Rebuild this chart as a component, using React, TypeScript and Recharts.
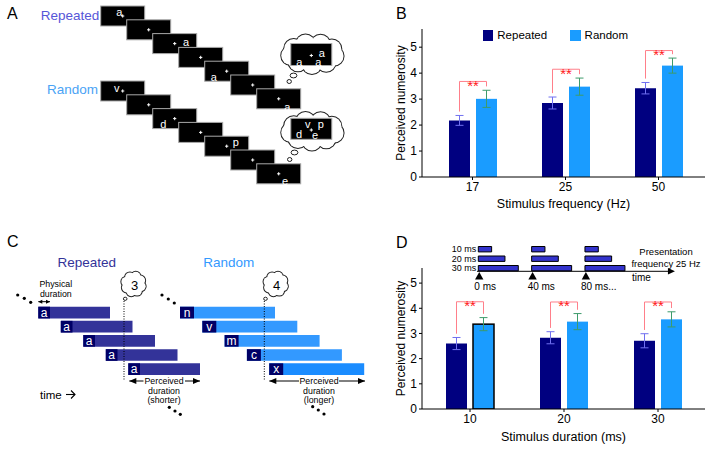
import React from 'react';
import {
  BarChart,
  Bar,
  XAxis,
  YAxis,
  ErrorBar,
  ScatterChart,
  Scatter,
  ReferenceArea,
  ReferenceLine,
} from 'recharts';

const FONT = '"Liberation Sans", Arial, Helvetica, sans-serif';

// ---------------- Panel B : stimulus frequency ----------------
const freqCategories = ['17', '25', '50'];
const freqRepeated = [2.18, 2.85, 3.42];
const freqRandom = [3.01, 3.48, 4.29];
const freqRepeatedErr = [0.19, 0.23, 0.22];
const freqRandomErr = [0.33, 0.33, 0.29];
const freqBracket = [3.68, 4.15, 4.87];

// ---------------- Panel D : stimulus duration ----------------
const durCategories = ['10', '20', '30'];
const durRepeated = [2.6, 2.83, 2.71];
const durRandom = [3.37, 3.47, 3.56];
const durRepeatedErr = [0.24, 0.24, 0.28];
const durRandomErr = [0.26, 0.32, 0.3];
const durBracket = [4.26, 4.25, 4.25];
const durOutlined = [true, false, false];

const yTicks = [0, 1, 2, 3, 4, 5];
const legendLabels = ['Repeated', 'Random'];

// Panel D inset (presentation timeline, in ms)
const insetDurations = [10, 20, 30];
const insetDurationLabels = ['10 ms', '20 ms', '30 ms'];
const insetOnsets = [0, 40, 80];
const insetOnsetLabels = ['0 ms', '40 ms', '80 ms...'];

// ---------------- Panel A : letter streams ----------------
const aRepeatedLetters = ['a', '', 'a', '', 'a', '', 'a'];
const aRepeatedOffsets = [[-3.4, -4.3], [0, 0], [11.3, -1.9], [0, 0], [-13, 6.1], [0, 0], [8.6, 7.9]];
const aRandomLetters = ['v', '', 'd', '', 'p', '', 'e'];
const aRandomOffsets = [[-6, -3.3], [0, 0], [-11.4, 5.7], [0, 0], [9, -4.5], [0, 0], [6.3, 7.2]];
const bubbleRepeatedLetters = ['a', 'a', 'a'];
const bubbleRepeatedOffsets = [[10.4, -1.8], [-12, 7.8], [7, 7.8]];
const bubbleRandomLetters = ['v', 'p', 'd', 'e'];
const bubbleRandomOffsets = [[-3.6, -4.5], [9.4, -4.8], [-12.3, 5.5], [3.7, 6.2]];

// ---------------- Panel C : durations ----------------
const cRepeatedLetters = ['a', 'a', 'a', 'a', 'a'];
const cRandomLetters = ['n', 'v', 'm', 'c', 'x'];
const cRepeatedCount = '3';
const cRandomCount = '4';

// colours
const NAVY = '#000080';
const SKY = '#1a9cff';
const REP_ERR = '#7070f0';
const RAND_ERR = '#3d9b6b';
const BRACKET = '#ff7f8a';
const STAR = '#ff1a1a';

const BAR_SIZE = 21;
const BAR_GAP = 6;

const makeData = (
  cats: string[],
  rep: number[],
  rnd: number[],
  repErr: number[],
  rndErr: number[],
  bracket: number[],
  outlined?: boolean[]
) =>
  cats.map((c, i) => ({
    cat: c,
    repeated: rep[i],
    random: rnd[i],
    repeatedErr: repErr[i],
    randomErr: rndErr[i],
    bracket: bracket[i],
    outlined: outlined ? outlined[i] : false,
  }));

const freqData = makeData(freqCategories, freqRepeated, freqRandom, freqRepeatedErr, freqRandomErr, freqBracket);
const durData = makeData(durCategories, durRepeated, durRandom, durRepeatedErr, durRandomErr, durBracket, durOutlined);

const randomShape = (props: any) => {
  const { x, y, width, height, payload } = props;
  const base = y + height;
  const perUnit = payload.random ? height / payload.random : 0;
  const py = (v: number) => base - v * perUnit;
  const rc = x + width / 2;
  const lc = x - BAR_GAP - width / 2;
  const by = py(payload.bracket);
  const leftEnd = py(payload.repeated + payload.repeatedErr + 0.15);
  const rightEnd = py(payload.random + payload.randomErr + 0.15);
  return (
    <g>
      <rect
        x={x}
        y={y}
        width={width}
        height={height}
        fill={SKY}
        stroke={payload.outlined ? '#000' : 'none'}
        strokeWidth={1.5}
      />
      <polyline
        points={`${lc},${leftEnd} ${lc},${by} ${rc},${by} ${rc},${rightEnd}`}
        fill="none"
        stroke={BRACKET}
        strokeWidth={1}
      />
      <text x={(lc + rc) / 2} y={by + 9.5} textAnchor="middle" fontSize={15} fill={STAR} fontFamily={FONT}>
        **
      </text>
    </g>
  );
};

const axisTick = { fill: '#000', fontSize: 12, fontFamily: FONT };

function NumerosityChart(props: {
  data: any[];
  yMax: number;
  top: number;
  height: number;
  xAxisHeight: number;
  xLabel: string;
  xLabelOffset: number;
  padLeft: number;
}) {
  const { data, yMax, top, height, xAxisHeight, xLabel, xLabelOffset, padLeft } = props;
  return (
    <BarChart
      width={335}
      height={height}
      data={data}
      margin={{ top, right: 10, bottom: 0, left: 0 }}
      barSize={BAR_SIZE}
      barGap={BAR_GAP}
    >
      <XAxis
        dataKey="cat"
        height={xAxisHeight}
        stroke="#000"
        tickSize={3}
        tickMargin={2}
        padding={{ left: padLeft, right: 0 }}
        tick={axisTick}
        label={{
          value: xLabel,
          position: 'insideBottom',
          offset: xLabelOffset,
          style: { fontSize: 12.5, fill: '#000', fontFamily: FONT },
        }}
      />
      <YAxis
        type="number"
        domain={[0, yMax]}
        ticks={yTicks}
        width={42}
        stroke="#000"
        tickSize={3}
        tickMargin={2}
        allowDataOverflow
        tick={axisTick}
        label={{
          value: 'Perceived numerosity',
          angle: -90,
          position: 'insideLeft',
          offset: 21,
          style: { textAnchor: 'middle', fontSize: 12, fill: '#000', fontFamily: FONT },
        }}
      />
      <Bar dataKey="repeated" fill={NAVY} isAnimationActive={false}>
        <ErrorBar dataKey="repeatedErr" width={4} stroke={REP_ERR} strokeWidth={1} />
      </Bar>
      <Bar dataKey="random" fill={SKY} isAnimationActive={false} shape={randomShape}>
        <ErrorBar dataKey="randomErr" width={4} stroke={RAND_ERR} strokeWidth={1} />
      </Bar>
    </BarChart>
  );
}

// ---------------- generic schematic helpers ----------------
const textShape = (p: any) => {
  const d = p.payload;
  return (
    <text
      x={p.cx}
      y={p.cy}
      fontSize={d.size}
      fill={d.color || '#000'}
      textAnchor={d.anchor || 'middle'}
      dominantBaseline="central"
      fontFamily={FONT}
    >
      {d.t}
    </text>
  );
};

const Fix = ({ x, y }: { x: number; y: number }) => (
  <g stroke="#fff" strokeWidth={1}>
    <line x1={x - 1.6} y1={y} x2={x + 1.6} y2={y} />
    <line x1={x} y1={y - 1.6} x2={x} y2={y + 1.6} />
  </g>
);

const frameShape = (p: any) => {
  const d = p.payload;
  return (
    <g>
      <rect x={p.cx - d.w / 2} y={p.cy - d.h / 2} width={d.w} height={d.h} fill="#000" stroke="#a8a8a8" strokeWidth={1} />
      <Fix x={p.cx + (d.fx || 0)} y={p.cy + (d.fy || 0)} />
      {(d.letters || []).map((l: string, k: number) => (
        <text
          key={k}
          x={p.cx + d.offsets[k][0]}
          y={p.cy + d.offsets[k][1]}
          fill="#fff"
          fontSize={11}
          textAnchor="middle"
          dominantBaseline="central"
          fontFamily={FONT}
        >
          {l}
        </text>
      ))}
    </g>
  );
};

const cloudShape = (p: any) => {
  const d = p.payload;
  const pts: number[][] = [];
  for (let k = 0; k < d.lobes; k++) {
    const a = (2 * Math.PI * k) / d.lobes + (d.phase || 0);
    pts.push([p.cx + (d.rx - d.r) * Math.cos(a), p.cy + (d.ry - d.r) * Math.sin(a)]);
  }
  return (
    <g>
      {pts.map(([x, y], k) => (
        <circle key={'o' + k} cx={x} cy={y} r={d.r} fill="#fff" stroke="#222" strokeWidth={2} />
      ))}
      {pts.map(([x, y], k) => (
        <circle key={'i' + k} cx={x} cy={y} r={d.r} fill="#fff" />
      ))}
      <ellipse cx={p.cx} cy={p.cy} rx={Math.max(d.rx - d.r, 1)} ry={Math.max(d.ry - d.r, 1)} fill="#fff" />
    </g>
  );
};

const ovalShape = (p: any) => {
  const d = p.payload;
  return <ellipse cx={p.cx} cy={p.cy} rx={d.rx} ry={d.ry} fill="#fff" stroke="#222" strokeWidth={1} />;
};

const dotShape = (p: any) => <circle cx={p.cx} cy={p.cy} r={p.payload.r || 1.6} fill="#000" />;

const arrowHeadShape = (p: any) => {
  const d = p.payload;
  const s = d.dir === 'left' ? -1 : 1;
  const L = d.len || 6;
  const H = d.half || 2.6;
  return (
    <polygon
      points={`${p.cx},${p.cy} ${p.cx - s * L},${p.cy - H} ${p.cx - s * L},${p.cy + H}`}
      fill="#000"
    />
  );
};

const openArrowShape = (p: any) => (
  <g stroke="#000" strokeWidth={1.1} fill="none">
    <line x1={p.cx - 9} y1={p.cy} x2={p.cx} y2={p.cy} />
    <polyline points={`${p.cx - 4},${p.cy - 4} ${p.cx},${p.cy} ${p.cx - 4},${p.cy + 4}`} />
  </g>
);

const triangleUpShape = (p: any) => (
  <polygon points={`${p.cx},${p.cy - 3.8} ${p.cx - 4.2},${p.cy + 3.8} ${p.cx + 4.2},${p.cy + 3.8}`} fill="#000" />
);

function Schematic(props: { width: number; height: number; xDomain?: number[]; children: any }) {
  const { width, height, xDomain, children } = props;
  return (
    <ScatterChart width={width} height={height} margin={{ top: 0, right: 0, bottom: 0, left: 0 }}>
      <XAxis type="number" dataKey="x" domain={xDomain || [0, width]} hide allowDataOverflow />
      <YAxis type="number" dataKey="y" domain={[0, height]} reversed hide allowDataOverflow />
      {children}
    </ScatterChart>
  );
}

// ---------------- Panel A ----------------
const A_FRAME_W = 44;
const A_FRAME_H = 20;
const A_STEP_X = 26;
const A_STEP_Y = 13.8;

const buildFrames = (letters: string[], offsets: number[][], x0: number, y0: number) =>
  letters.map((l, i) => ({
    x: x0 + i * A_STEP_X,
    y: y0 + i * A_STEP_Y,
    w: A_FRAME_W,
    h: A_FRAME_H,
    letters: l ? [l] : [],
    offsets: [offsets[i]],
  }));

const aRepeatedFrames = buildFrames(aRepeatedLetters, aRepeatedOffsets, 122.7, 16);
const aRandomFrames = buildFrames(aRandomLetters, aRandomOffsets, 122.7, 91);

const aClouds = [
  { x: 312.5, y: 54, rx: 31.5, ry: 20, lobes: 9, r: 9.5, phase: 0.2 },
  { x: 312.5, y: 131, rx: 31.5, ry: 19.5, lobes: 9, r: 9.5, phase: 0.2 },
];
const aCloudTails = [
  { x: 293.5, y: 75.5, rx: 3.4, ry: 2.4 },
  { x: 289.2, y: 81.5, rx: 2.2, ry: 2 },
  { x: 294.5, y: 152.5, rx: 3.4, ry: 2.4 },
  { x: 289.7, y: 159.5, rx: 2.2, ry: 2 },
];
const aBubbleFrames = [
  { x: 311.3, y: 54.5, w: 41, h: 22, fy: 1, letters: bubbleRepeatedLetters, offsets: bubbleRepeatedOffsets },
  { x: 311.3, y: 128.8, w: 41, h: 21, fy: 1.2, letters: bubbleRandomLetters, offsets: bubbleRandomOffsets },
];
const aTexts = [
  { x: 70, y: 15, t: legendLabels[0], size: 13.5, color: '#5656d8' },
  { x: 72.5, y: 89.5, t: legendLabels[1], size: 13.5, color: '#4aa3f5' },
];

function PanelA() {
  return (
    <Schematic width={380} height={225}>
      <Scatter data={aRepeatedFrames} shape={frameShape} isAnimationActive={false} />
      <Scatter data={aRandomFrames} shape={frameShape} isAnimationActive={false} />
      <Scatter data={aCloudTails} shape={ovalShape} isAnimationActive={false} />
      <Scatter data={aClouds} shape={cloudShape} isAnimationActive={false} />
      <Scatter data={aBubbleFrames} shape={frameShape} isAnimationActive={false} />
      <Scatter data={aTexts} shape={textShape} isAnimationActive={false} />
    </Schematic>
  );
}

// ---------------- Panel C ----------------
const C_ROW_TOP = 81.7;
const C_ROW_STEP = 14.15;
const C_ROW_H = 11.7;

const cRepeatedBars = cRepeatedLetters.map((l, i) => ({
  start: 38.3 + 22.5 * i,
  len: 71.7,
  dark: 11.7,
  top: C_ROW_TOP + C_ROW_STEP * i,
  letter: l,
  color: '#333399',
}));
const cRandomBars = cRandomLetters.map((l, i) => ({
  start: 180 + 22.3 * i,
  len: 95,
  dark: 14,
  top: C_ROW_TOP + C_ROW_STEP * i,
  letter: l,
  color: i === cRandomLetters.length - 1 ? '#1a8cff' : '#3399ff',
}));
const cBarLetters = [...cRepeatedBars, ...cRandomBars].map((b) => ({
  x: b.start + b.dark / 2,
  y: b.top + C_ROW_H / 2,
  t: b.letter,
  size: 12,
  color: '#fff',
}));

const cClouds = [
  { x: 133.5, y: 59, rx: 12.5, ry: 12.5, lobes: 8, r: 4.8, phase: 0.3 },
  { x: 275.7, y: 59, rx: 12.5, ry: 12.5, lobes: 8, r: 4.8, phase: 0.3 },
];
const cTails = [
  { x: 125.2, y: 73.8, rx: 1.8, ry: 1.6 },
  { x: 265.5, y: 73.8, rx: 1.8, ry: 1.6 },
];
const cDots = [
  { x: 17.7, y: 70 }, { x: 24.3, y: 73.3 }, { x: 30.7, y: 77.3 },
  { x: 162, y: 70 }, { x: 168.3, y: 74 }, { x: 174.3, y: 78 },
  { x: 169.3, y: 182.3 }, { x: 175, y: 186 }, { x: 180.3, y: 189.3 },
  { x: 312.7, y: 181.7 }, { x: 318.3, y: 185 }, { x: 324, y: 189 },
];
const cArrowHeads = [
  { x: 38.3, y: 76.7, dir: 'left', len: 4, half: 2 },
  { x: 50, y: 76.7, dir: 'right', len: 4, half: 2 },
  { x: 129.3, y: 156, dir: 'left', len: 7, half: 3 },
  { x: 200, y: 156, dir: 'right', len: 7, half: 3 },
  { x: 269.3, y: 156, dir: 'left', len: 7, half: 3 },
  { x: 365, y: 156, dir: 'right', len: 7, half: 3 },
];
const cTimeArrow = [{ x: 75, y: 169.5 }];
const cTexts = [
  { x: 86.7, y: 37.5, t: legendLabels[0], size: 13.5, color: '#333399' },
  { x: 228.7, y: 37.5, t: legendLabels[1], size: 13.5, color: '#3399ff' },
  { x: 55.8, y: 58.5, t: 'Physical', size: 8.8 },
  { x: 55.8, y: 69, t: 'duration', size: 8.8 },
  { x: 134.5, y: 60, t: cRepeatedCount, size: 13 },
  { x: 276.5, y: 60, t: cRandomCount, size: 13 },
  { x: 164, y: 156, t: 'Perceived', size: 8.8 },
  { x: 164, y: 165.7, t: 'duration', size: 8.8 },
  { x: 164, y: 174.6, t: '(shorter)', size: 8.8 },
  { x: 319, y: 156, t: 'Perceived', size: 8.8 },
  { x: 319, y: 165.7, t: 'duration', size: 8.8 },
  { x: 319, y: 174.6, t: '(longer)', size: 8.8 },
  { x: 40, y: 169.5, t: 'time', size: 11.5, anchor: 'start' },
];
const cSegments = [
  [[38.3, 76.7], [50, 76.7]],
  [[129.3, 156], [143.5, 156]],
  [[185, 156], [200, 156]],
  [[269.3, 156], [299, 156]],
  [[339, 156], [365, 156]],
];

function PanelC() {
  return (
    <Schematic width={380} height={224}>
      {[...cRepeatedBars, ...cRandomBars].map((b, i) => (
        <ReferenceArea
          key={'bar' + i}
          x1={b.start}
          x2={b.start + b.len}
          y1={b.top}
          y2={b.top + C_ROW_H}
          fill={b.color}
          fillOpacity={1}
          stroke="none"
          ifOverflow="visible"
        />
      ))}
      {[...cRepeatedBars, ...cRandomBars].map((b, i) => (
        <ReferenceArea
          key={'dark' + i}
          x1={b.start}
          x2={b.start + b.dark}
          y1={b.top}
          y2={b.top + C_ROW_H}
          fill="#000066"
          fillOpacity={1}
          stroke="none"
          ifOverflow="visible"
        />
      ))}
      {cSegments.map((s, i) => (
        <ReferenceLine
          key={'seg' + i}
          segment={[{ x: s[0][0], y: s[0][1] }, { x: s[1][0], y: s[1][1] }]}
          stroke="#000"
          strokeWidth={1}
          ifOverflow="visible"
        />
      ))}
      <ReferenceLine
        segment={[{ x: 124, y: 76 }, { x: 124, y: 155 }]}
        stroke="#000"
        strokeWidth={1}
        strokeDasharray="1 1.5"
        ifOverflow="visible"
      />
      <ReferenceLine
        segment={[{ x: 264.3, y: 76 }, { x: 264.3, y: 155 }]}
        stroke="#000"
        strokeWidth={1}
        strokeDasharray="1 1.5"
        ifOverflow="visible"
      />
      <Scatter data={cBarLetters} shape={textShape} isAnimationActive={false} />
      <Scatter data={cTails} shape={ovalShape} isAnimationActive={false} />
      <Scatter data={cClouds} shape={cloudShape} isAnimationActive={false} />
      <Scatter data={cDots} shape={dotShape} isAnimationActive={false} />
      <Scatter data={cArrowHeads} shape={arrowHeadShape} isAnimationActive={false} />
      <Scatter data={cTimeArrow} shape={openArrowShape} isAnimationActive={false} />
      <Scatter data={cTexts} shape={textShape} isAnimationActive={false} />
    </Schematic>
  );
}

// ---------------- Panel D inset ----------------
const INSET_W = 335;
const INSET_H = 70;
const MS_ORIGIN_PX = 98.3;
const PX_PER_MS = 1.3333;
const insetDomain = [-MS_ORIGIN_PX / PX_PER_MS, (INSET_W - MS_ORIGIN_PX) / PX_PER_MS];
const INSET_ROW0 = 24.2;
const INSET_ROW_STEP = 9.5;
const INSET_BAR_H = 5.4;
const INSET_LINE_Y = 46.3;

const insetRowTexts = insetDurationLabels.map((t, i) => ({
  x: -1.5,
  y: INSET_ROW0 + INSET_ROW_STEP * i,
  t,
  size: 9,
  anchor: 'end',
}));
const insetOnsetTexts = insetOnsetLabels.map((t, i) => ({
  x: insetOnsets[i] - 3,
  y: 61.7,
  t,
  size: 10,
  anchor: 'start',
}));
const insetTriangles = insetOnsets.map((o) => ({ x: o + 0.7, y: 50.8 }));
const insetOtherTexts = [
  { x: 140.8, y: 26.7, t: 'Presentation', size: 9.5 },
  { x: 140.8, y: 38.3, t: 'frequency 25 Hz', size: 9.5 },
  { x: 115.2, y: 52.7, t: 'time', size: 10, anchor: 'start' },
];
const insetArrow = [{ x: 147.5, y: INSET_LINE_Y, dir: 'right', len: 7, half: 3.3 }];

function InsetD() {
  return (
    <Schematic width={INSET_W} height={INSET_H} xDomain={insetDomain}>
      {insetOnsets.map((o) =>
        insetDurations.map((d, i) => (
          <ReferenceArea
            key={o + '-' + d}
            x1={o}
            x2={o + d}
            y1={INSET_ROW0 + INSET_ROW_STEP * i - INSET_BAR_H / 2}
            y2={INSET_ROW0 + INSET_ROW_STEP * i + INSET_BAR_H / 2}
            fill="#3333cc"
            fillOpacity={1}
            stroke="#000"
            strokeWidth={1}
            ifOverflow="visible"
          />
        ))
      )}
      <ReferenceLine
        segment={[{ x: -1, y: INSET_LINE_Y }, { x: 143, y: INSET_LINE_Y }]}
        stroke="#000"
        strokeWidth={1}
        ifOverflow="visible"
      />
      <Scatter data={insetTriangles} shape={triangleUpShape} isAnimationActive={false} />
      <Scatter data={insetArrow} shape={arrowHeadShape} isAnimationActive={false} />
      <Scatter data={insetRowTexts} shape={textShape} isAnimationActive={false} />
      <Scatter data={insetOnsetTexts} shape={textShape} isAnimationActive={false} />
      <Scatter data={insetOtherTexts} shape={textShape} isAnimationActive={false} />
    </Schematic>
  );
}

const panelLetter = (t: string, left: number, top: number) => (
  <div
    style={{
      position: 'absolute',
      left,
      top,
      fontSize: 16,
      lineHeight: '16px',
      fontFamily: FONT,
      color: '#000',
    }}
  >
    {t}
  </div>
);

const Legend = () => (
  <div style={{ position: 'absolute', left: 482.7, top: 29, fontFamily: FONT, fontSize: 11.5, color: '#000' }}>
    {legendLabels.map((l, i) => (
      <div key={l} style={{ position: 'absolute', left: i * 87.3, top: 0, display: 'flex', alignItems: 'center', whiteSpace: 'nowrap' }}>
        <div style={{ width: 10.6, height: 11, background: i === 0 ? NAVY : SKY, marginRight: 4 }} />
        <span style={{ lineHeight: '12px' }}>{l}</span>
      </div>
    ))}
  </div>
);

export default function App() {
  return (
    <div style={{ position: 'relative', width: 715, height: 449, background: '#fff', overflow: 'hidden' }}>
      <style>{'body{margin:0;background:#fff}'}</style>
      <div style={{ position: 'absolute', left: 0, top: 0 }}>
        <PanelA />
      </div>
      <div style={{ position: 'absolute', left: 0, top: 225 }}>
        <PanelC />
      </div>
      <div style={{ position: 'absolute', left: 380, top: 0 }}>
        <NumerosityChart
          data={freqData}
          yMax={5.7}
          top={29}
          height={225}
          xAxisHeight={48}
          xLabel="Stimulus frequency (Hz)"
          xLabelOffset={17}
          padLeft={4}
        />
      </div>
      <div style={{ position: 'absolute', left: 380, top: 225 }}>
        <NumerosityChart
          data={durData}
          yMax={5.6}
          top={43}
          height={224}
          xAxisHeight={40}
          xLabel="Stimulus duration (ms)"
          xLabelOffset={8.5}
          padLeft={1}
        />
      </div>
      <div style={{ position: 'absolute', left: 380, top: 225 }}>
        <InsetD />
      </div>
      <Legend />
      {panelLetter('A', 7, 6)}
      {panelLetter('B', 396, 6)}
      {panelLetter('C', 7, 234)}
      {panelLetter('D', 396, 235)}
    </div>
  );
}
